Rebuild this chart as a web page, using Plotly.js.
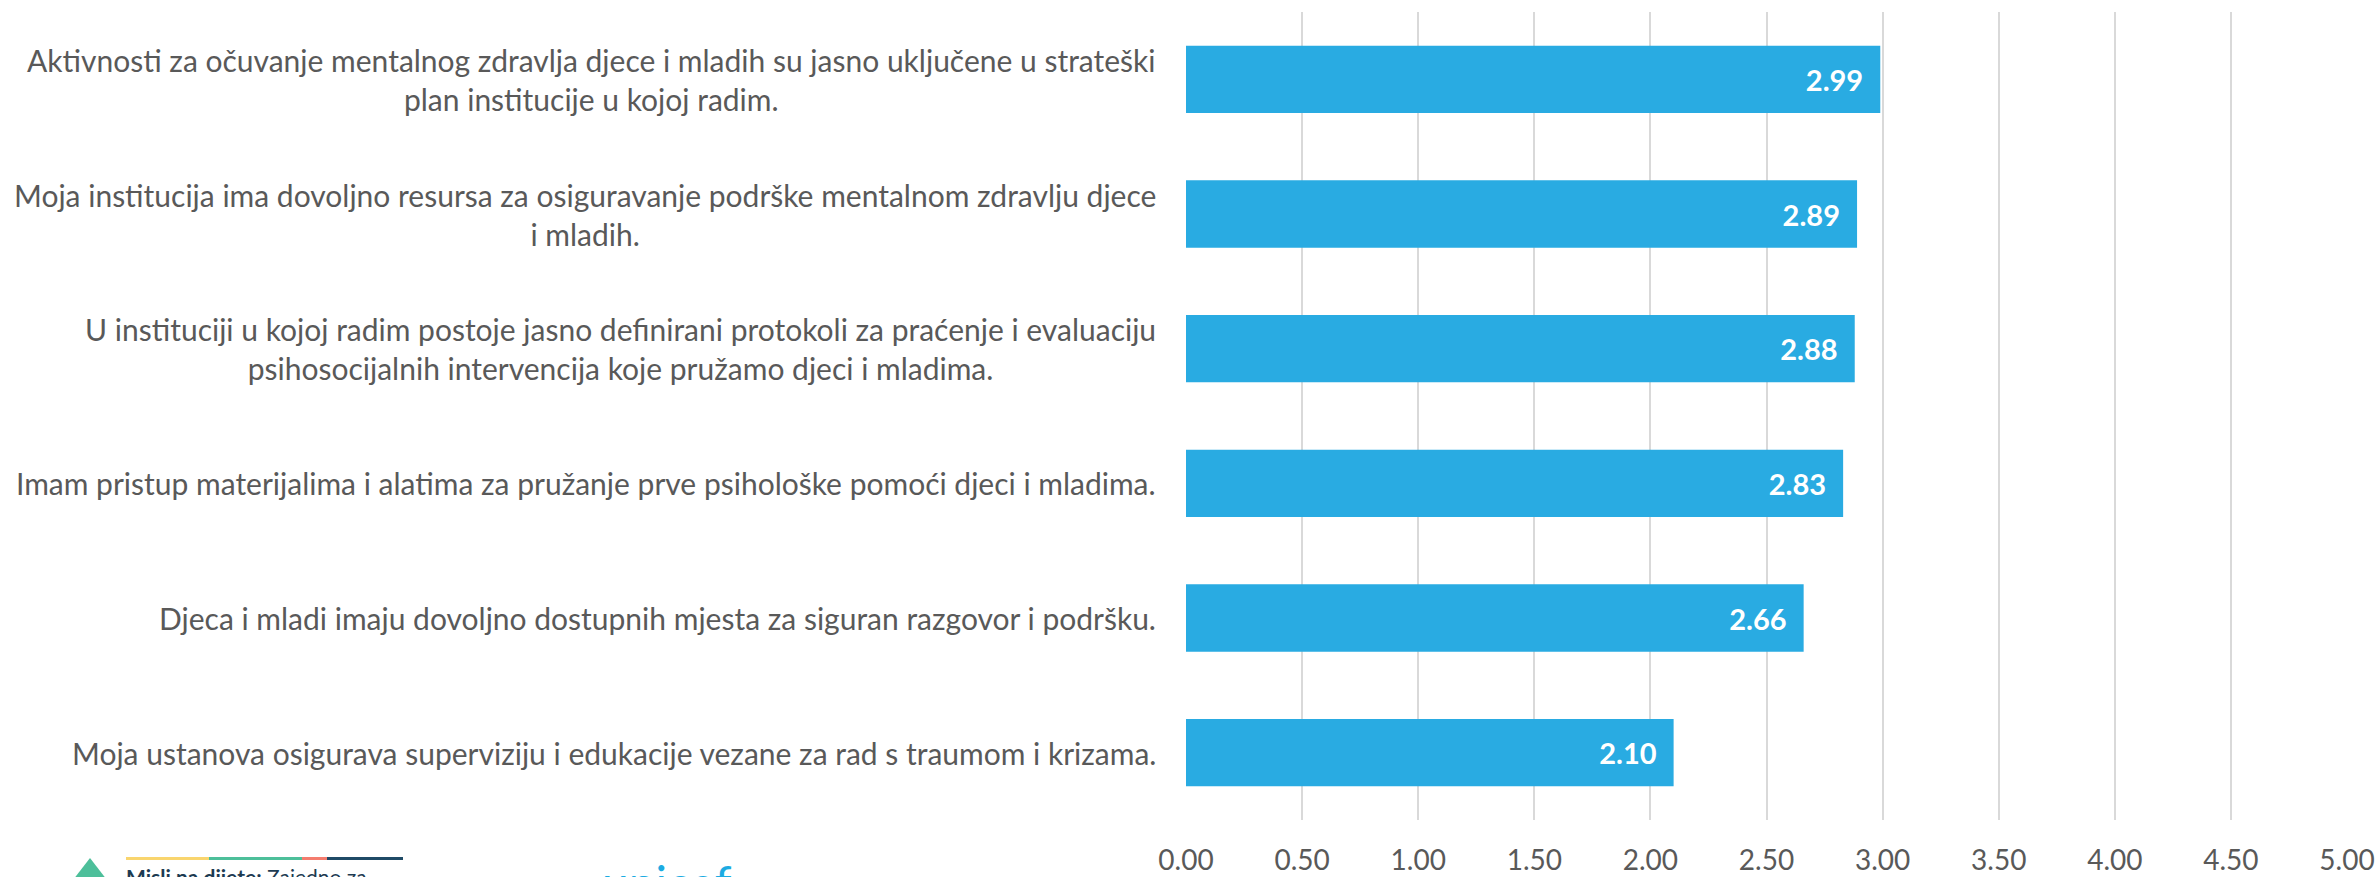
<!DOCTYPE html>
<html>
<head>
<meta charset="utf-8">
<script src="https://cdn.plot.ly/plotly-3.0.1.min.js"></script>
<style>html,body{margin:0;padding:0;background:#fff;}#chart{width:2379px;height:877px;}</style>
</head>
<body>
<div id="chart"></div>
<script>
const categories = [
  "Aktivnosti za očuvanje mentalnog zdravlja djece i mladih su jasno uključene u strateški<br>plan institucije u kojoj radim.",
  "Moja institucija ima dovoljno resursa za osiguravanje podrške mentalnom zdravlju djece<br>i mladih.",
  "U instituciji u kojoj radim postoje jasno definirani protokoli za praćenje i evaluaciju<br>psihosocijalnih intervencija koje pružamo djeci i mladima.",
  "Imam pristup materijalima i alatima za pružanje prve psihološke pomoći djeci i mladima.",
  "Djeca i mladi imaju dovoljno dostupnih mjesta za siguran razgovor i podršku.",
  "Moja ustanova osigurava superviziju i edukacije vezane za rad s traumom i krizama."
];
const values = [2.99, 2.89, 2.88, 2.83, 2.66, 2.10];
const tickValues = [0, 0.5, 1, 1.5, 2, 2.5, 3, 3.5, 4, 4.5, 5];
const tickLabels = ["0.00","0.50","1.00","1.50","2.00","2.50","3.00","3.50","4.00","4.50","5.00"];

const FONT = "Lato, 'Open Sans', sans-serif";

const trace = {
  type: "bar",
  orientation: "h",
  x: values,
  y: categories,
  marker: {color: "#29ABE2"},
  texttemplate: "%{x:.2f}\u00a0\u00a0",
  textposition: "inside",
  insidetextanchor: "end",
  textangle: 0,
  textfont: {family: FONT, size: 29, color: "#ffffff", weight: "bold"},
  hoverinfo: "none",
  cliponaxis: false
};

const annotations = categories.map(c => ({
  xref: "paper", yref: "y",
  x: -0.024, y: c,
  xanchor: "right", yanchor: "middle",
  align: "center",
  text: c,
  showarrow: false,
  font: {family: FONT, size: 30, color: "#595959"}
}));

// footer logos (partially visible, cut at bottom edge as in the reference)
const L = 1186, W = 1161, T = 12, B = 820, H = B - T;
const px = X => (X - L) / W;
const py = Y => (B - Y) / H;
annotations.push({
  xref: "paper", yref: "paper", x: px(124), y: py(862), xanchor: "left", yanchor: "top",
  text: "<b>Misli na dijete:</b> Zajedno za", showarrow: false,
  font: {family: FONT, size: 21, color: "#1d3b52"}
});
annotations.push({
  xref: "paper", yref: "paper", x: px(600), y: py(852), xanchor: "left", yanchor: "top",
  text: "unicef", showarrow: false,
  font: {family: FONT, size: 48, color: "#1CABE2"}
});

const shapes = [
  {color: "#F9D56E", x0: 126, x1: 209},
  {color: "#4DBF9A", x0: 209, x1: 302},
  {color: "#F47C6E", x0: 302, x1: 327},
  {color: "#1F4A66", x0: 327, x1: 403}
].map(s => ({
  type: "rect", xref: "paper", yref: "paper",
  x0: px(s.x0), x1: px(s.x1), y0: py(860), y1: py(857),
  fillcolor: s.color, line: {width: 0}, layer: "above"
}));
shapes.push({
  type: "path", xref: "paper", yref: "paper",
  path: `M ${px(73)} ${py(880)} L ${px(90)} ${py(858)} L ${px(107)} ${py(880)} Z`,
  fillcolor: "#4DBF9A", line: {width: 0}
});

const layout = {
  width: 2379, height: 877,
  margin: {l: L, r: 2379 - L - W, t: T, b: 877 - B, pad: 0},
  paper_bgcolor: "#ffffff", plot_bgcolor: "#ffffff",
  showlegend: false,
  bargap: 0.5,
  font: {family: FONT},
  xaxis: {
    range: [0, 5],
    tickvals: tickValues, ticktext: tickLabels,
    showgrid: true, gridcolor: "#D9D9D9", gridwidth: 2,
    zeroline: false, showline: false, ticks: "",
    tickfont: {family: FONT, size: 28, color: "#595959"},
    ticklabelstandoff: 21,
    fixedrange: true
  },
  yaxis: {
    type: "category",
    autorange: "reversed",
    showticklabels: false, showgrid: false, zeroline: false, showline: false, ticks: "",
    fixedrange: true
  },
  annotations: annotations,
  shapes: shapes
};

Plotly.newPlot("chart", [trace], layout, {staticPlot: true, displayModeBar: false});
</script>
</body>
</html>
